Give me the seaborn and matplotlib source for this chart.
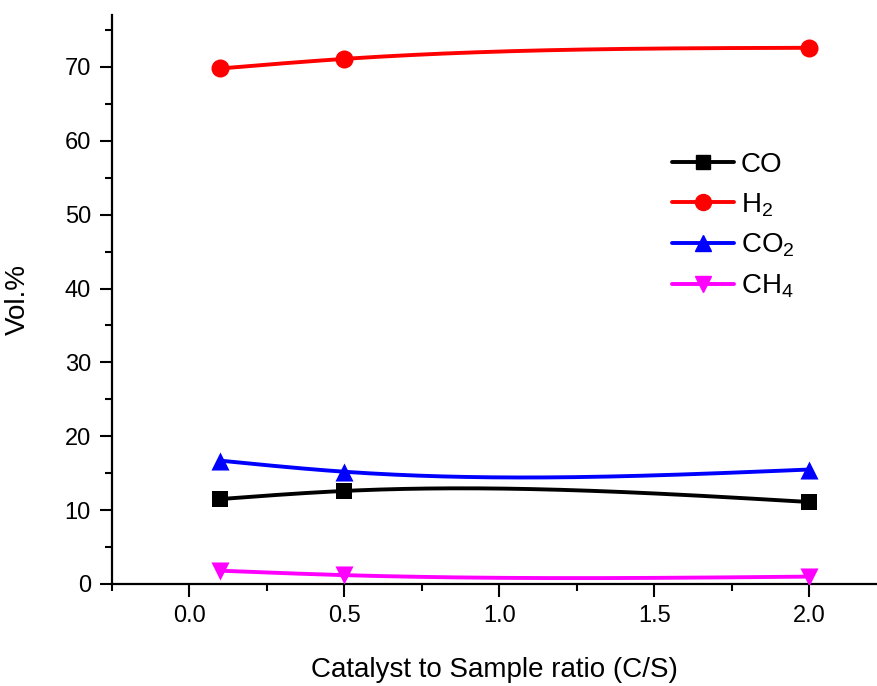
import numpy as np
import pandas as pd
import matplotlib
matplotlib.use("Agg")
import matplotlib.pyplot as plt
import seaborn as sns
from matplotlib.ticker import MultipleLocator

# Gas composition vs catalyst-to-sample ratio
cs_ratio = [0.1, 0.5, 2.0]
co = [11.5, 12.6, 11.1]
h2 = [69.8, 71.1, 72.6]
co2 = [16.7, 15.2, 15.5]
ch4 = [1.8, 1.2, 1.0]

labels = ["CO", r"H$_2$", r"CO$_2$", r"CH$_4$"]
colors = ["#000000", "#ff0000", "#0000ff", "#ff00ff"]
markers = ["s", "o", "^", "v"]
msizes = [11.5, 13, 13, 13]

sns.set_theme(style="ticks")
plt.rcParams["font.family"] = ["Liberation Sans", "DejaVu Sans"]
plt.rcParams["mathtext.fontset"] = "custom"
plt.rcParams["mathtext.rm"] = "Liberation Sans"
plt.rcParams["mathtext.it"] = "Liberation Sans"
plt.rcParams["text.color"] = "black"
plt.rcParams["axes.labelcolor"] = "black"


def natural_spline(x, y, n=200):
    """Natural cubic spline through the given points."""
    x = np.asarray(x, float)
    y = np.asarray(y, float)
    k = len(x)
    h = np.diff(x)
    A = np.zeros((k, k))
    b = np.zeros(k)
    A[0, 0] = A[-1, -1] = 1.0
    for i in range(1, k - 1):
        A[i, i - 1] = h[i - 1]
        A[i, i] = 2 * (h[i - 1] + h[i])
        A[i, i + 1] = h[i]
        b[i] = 6 * ((y[i + 1] - y[i]) / h[i] - (y[i] - y[i - 1]) / h[i - 1])
    M = np.linalg.solve(A, b)
    xs = np.linspace(x[0], x[-1], n)
    idx = np.clip(np.searchsorted(x, xs) - 1, 0, k - 2)
    x0, x1 = x[idx], x[idx + 1]
    hh = x1 - x0
    t0 = x1 - xs
    t1 = xs - x0
    ys = (M[idx] * t0 ** 3 / (6 * hh) + M[idx + 1] * t1 ** 3 / (6 * hh)
          + (y[idx] / hh - M[idx] * hh / 6) * t0
          + (y[idx + 1] / hh - M[idx + 1] * hh / 6) * t1)
    return xs, ys


fig = plt.figure(figsize=(8.77, 6.86), dpi=100)
ax = fig.add_axes([0.1274, 0.1487, 0.8726, 0.829])

for vals, lab, c, m, ms in zip([co, h2, co2, ch4], labels, colors, markers, msizes):
    xs, ys = natural_spline(cs_ratio, vals)
    sns.lineplot(x=xs, y=ys, ax=ax, color=c, linewidth=2.8, sort=False)
    sns.scatterplot(x=cs_ratio, y=vals, ax=ax, color=c, marker=m,
                    s=ms ** 2, edgecolor=c, linewidth=0, zorder=3)

# legend proxies (line with marker in the middle)
handles = [plt.Line2D([], [], color=c, marker=m, markersize=ms - 1.5, linewidth=2.8)
           for c, m, ms in zip(colors, markers, msizes)]
ax.legend(handles, labels, loc="upper left", bbox_to_anchor=(0.717, 0.779),
          frameon=False, fontsize=20, handlelength=2.25, handletextpad=0.25,
          labelspacing=0.47, borderaxespad=0)

ax.set_xlim(-0.25, 2.218)
ax.set_ylim(0, 77)
ax.xaxis.set_major_locator(MultipleLocator(0.5))
ax.xaxis.set_minor_locator(MultipleLocator(0.25))
ax.yaxis.set_major_locator(MultipleLocator(10))
ax.yaxis.set_minor_locator(MultipleLocator(5))
ax.xaxis.set_major_formatter(matplotlib.ticker.FormatStrFormatter("%.1f"))

sns.despine(ax=ax)
for s in ["left", "bottom"]:
    ax.spines[s].set_linewidth(1.6)
    ax.spines[s].set_color("black")
ax.tick_params(which="major", direction="out", length=9, width=1.5,
               labelsize=17, colors="black", pad=6)
ax.tick_params(which="minor", direction="out", length=5, width=1.5, colors="black")

ax.set_xlabel("Catalyst to Sample ratio (C/S)", fontsize=20, labelpad=22)
ax.set_ylabel("Vol.%", fontsize=20, labelpad=24)

fig.savefig("out.png", dpi=100)
